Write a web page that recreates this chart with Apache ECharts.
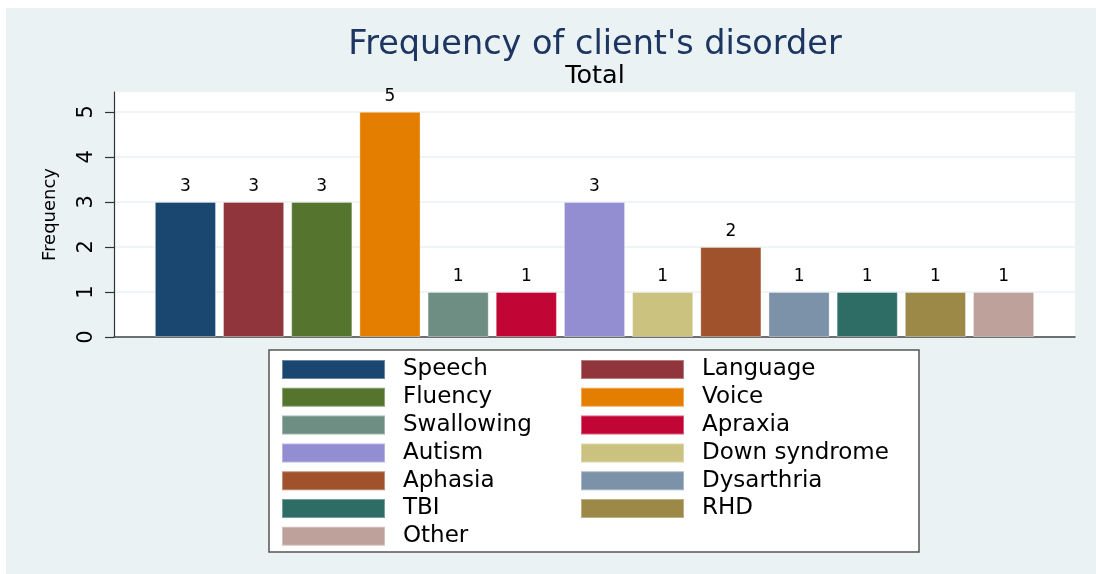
<!DOCTYPE html>
<html>
<head>
<meta charset="utf-8">
<script src="https://cdn.jsdelivr.net/npm/echarts@6/dist/echarts.min.js"></script>
<style>
  html, body { margin: 0; padding: 0; background: #fff; }
  #chart { width: 1096px; height: 574px; }
</style>
</head>
<body>
<div id="chart"></div>
<script>
// categories and counts, in plot order
const disorders = [
  'Speech', 'Language', 'Fluency', 'Voice', 'Swallowing', 'Apraxia', 'Autism',
  'Down syndrome', 'Aphasia', 'Dysarthria', 'TBI', 'RHD', 'Other',
];
const counts = [3, 3, 3, 5, 1, 1, 3, 1, 2, 1, 1, 1, 1];
const yTicks = [0, 1, 2, 3, 4, 5];

// stata s2color palette
const colors = [
  '#1a476f', '#90353b', '#55752f', '#e37e00', '#6e8e84', '#c10534', '#938dd2',
  '#cac27e', '#a0522d', '#7b92a8', '#2d6d66', '#9c8847', '#bfa19c',
];

const FONT = 'DejaVu Sans';
const chart = echarts.init(document.getElementById('chart'));

const series = disorders.map((name, i) => ({
  name,
  type: 'bar',
  data: [counts[i]],
  barGap: '11.5%',
  barCategoryGap: '8.5%',
  itemStyle: { color: colors[i], borderColor: 'rgba(255,255,255,0.35)', borderWidth: 1 },
  label: {
    show: true,
    position: 'top',
    distance: 7,
    color: '#000',
    fontFamily: FONT,
    fontSize: 17,
  },
  animation: false,
}));

// legend is laid out row by row, so split into two columns
const leftCol = disorders.filter((d, i) => i % 2 === 0);
const rightCol = disorders.filter((d, i) => i % 2 === 1);

const legendBase = {
  orient: 'vertical',
  top: 358,
  padding: 0,
  itemWidth: 103,
  itemHeight: 19,
  itemGap: 4.8,
  selectedMode: false,
  icon: 'rect',
  textStyle: {
    color: '#000',
    fontFamily: FONT,
    fontSize: 23,
    lineHeight: 19,
    padding: [0, 0, 0, 13],
  },
};

chart.setOption({
  backgroundColor: '#fff',
  animation: false,
  graphic: [
    {
      type: 'rect', z: -10, silent: true,
      shape: { x: 6, y: 8, width: 1090, height: 566 },
      style: { fill: '#eaf2f3' },
    },
    {
      type: 'rect', z: -5, silent: true,
      shape: { x: 269, y: 350, width: 650, height: 202 },
      style: { fill: '#fff', stroke: '#555', lineWidth: 1.5 },
    },
    {
      type: 'text', x: 595, y: 28,
      style: {
        text: "Frequency of client's disorder",
        fill: '#1c3561', font: '33.5px "DejaVu Sans"', textAlign: 'center',
      },
    },
    {
      type: 'text', x: 595, y: 63,
      style: {
        text: 'Total',
        fill: '#000', font: '25.5px "DejaVu Sans"', textAlign: 'center',
      },
    },
  ],
  legend: [
    { ...legendBase, left: 281, data: leftCol },
    { ...legendBase, left: 580, data: rightCol },
  ],
  grid: {
    left: 114,
    right: 21,
    top: 92,
    bottom: 237,
    show: true,
    backgroundColor: '#fff',
    borderWidth: 0,
  },
  xAxis: {
    type: 'category',
    data: [''],
    axisLine: { lineStyle: { color: '#444', width: 1.5 } },
    axisTick: { show: false },
    axisLabel: { show: false },
  },
  yAxis: {
    type: 'value',
    min: 0,
    max: 5.44,
    interval: 1,
    name: 'Frequency',
    nameLocation: 'middle',
    nameGap: 55,
    nameTextStyle: { color: '#000', fontFamily: FONT, fontSize: 18 },
    axisLine: { show: true, lineStyle: { color: '#333', width: 1.2 } },
    axisTick: {
      show: true,
      length: 9,
      customValues: yTicks,
      lineStyle: { color: '#333', width: 1.2 },
    },
    axisLabel: {
      rotate: 90,
      margin: 17,
      color: '#000',
      fontFamily: FONT,
      fontSize: 21,
      customValues: yTicks,
    },
    splitLine: { lineStyle: { color: '#eaf2f3', width: 1.5 } },
  },
  series,
});
</script>
</body>
</html>
